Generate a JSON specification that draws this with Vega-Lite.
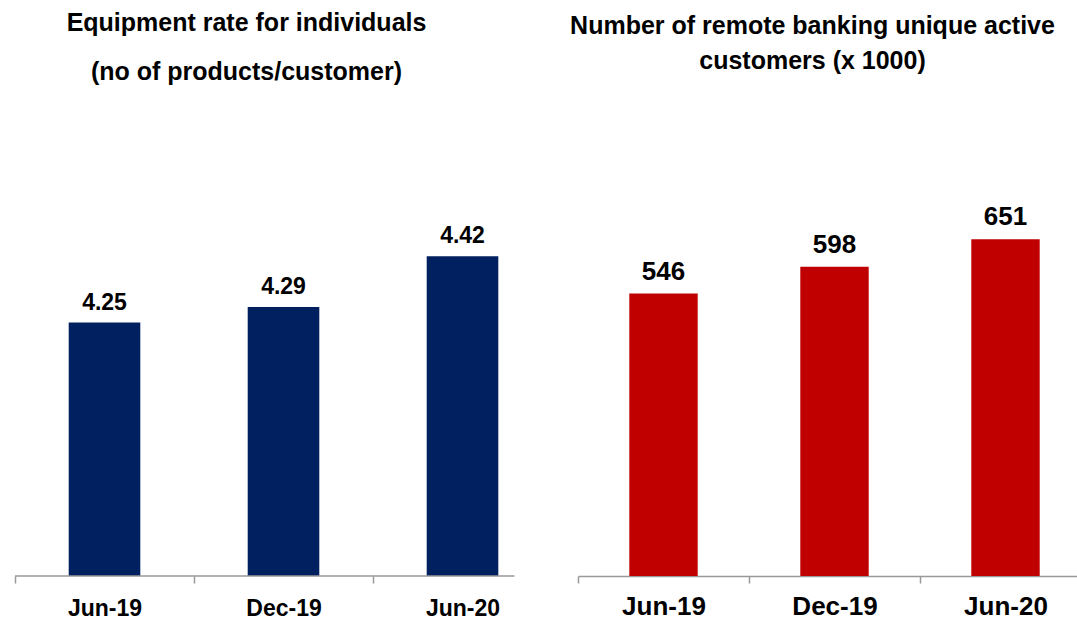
{
  "$schema": "https://vega.github.io/schema/vega-lite/v6.json",
  "background": "white",
  "padding": {"left": 14, "top": 11, "right": 0, "bottom": 0},
  "bounds": "flush",
  "spacing": 26,
  "config": {"view": {"stroke": null}, "font": "Liberation Sans"},
  "datasets": {
    "equip": [
      {"period": "Jun-19", "value": 4.25},
      {"period": "Dec-19", "value": 4.29},
      {"period": "Jun-20", "value": 4.42}
    ],
    "remote": [
      {"period": "Jun-19", "value": 546},
      {"period": "Dec-19", "value": 598},
      {"period": "Jun-20", "value": 651}
    ]
  },
  "hconcat": [
    {
      "width": 537,
      "height": 390,
      "title": {
        "text": ["Equipment rate for individuals", "(no of products/customer)"],
        "font": "Liberation Sans",
        "fontSize": 25,
        "fontWeight": "bold",
        "color": "black",
        "lineHeight": 49,
        "anchor": "middle",
        "dx": -37,
        "offset": 101
      },
      "data": {"name": "equip"},
      "layer": [
        {
          "mark": {"type": "bar", "color": "#002060", "width": {"band": 0.4}},
          "encoding": {
            "x": {
              "field": "period", "type": "nominal", "sort": null,
              "scale": {"paddingInner": 0, "paddingOuter": 0},
              "axis": {
                "title": null, "labelAngle": 0, "labelFont": "Liberation Sans",
                "labelFontWeight": "bold", "labelFontSize": 23, "labelColor": "black",
                "labelPadding": 14, "tickBand": "extent", "tickSize": 7,
                "tickColor": "#999999", "tickWidth": 1.5, "domain": false, "grid": false,
                "tickOpacity": {"condition": {"test": "datum.index == 1", "value": 0}, "value": 1}
              }
            },
            "y": {
              "field": "value", "type": "quantitative",
              "scale": {"domain": [3.6, 4.6], "nice": false, "zero": false},
              "axis": null
            },
            "y2": {"datum": 3.6}
          }
        },
        {
          "mark": {"type": "text", "baseline": "alphabetic", "dy": -13, "fontSize": 23, "fontWeight": "bold", "color": "black", "font": "Liberation Sans"},
          "encoding": {
            "x": {"field": "period", "type": "nominal", "sort": null},
            "y": {"field": "value", "type": "quantitative"},
            "text": {"field": "value", "type": "quantitative", "format": ".2f"}
          }
        },
        {
          "data": {"values": [{}]},
          "mark": {"type": "rule", "color": "#999999", "strokeWidth": 1.5},
          "encoding": {
            "x": {"datum": "Jun-19", "type": "nominal", "bandPosition": 0},
            "x2": {"datum": "Jun-20", "bandPosition": 0.79},
            "y": {"datum": 3.6, "type": "quantitative"}
          }
        }
      ]
    },
    {
      "width": 513,
      "height": 390,
      "title": {
        "text": ["Number of remote banking unique active", "customers (x 1000)"],
        "font": "Liberation Sans",
        "fontSize": 25,
        "fontWeight": "bold",
        "color": "black",
        "lineHeight": 35,
        "anchor": "middle",
        "dx": -22,
        "offset": 112
      },
      "data": {"name": "remote"},
      "layer": [
        {
          "mark": {"type": "bar", "color": "#C00000", "width": {"band": 0.4}},
          "encoding": {
            "x": {
              "field": "period", "type": "nominal", "sort": null,
              "scale": {"paddingInner": 0, "paddingOuter": 0},
              "axis": {
                "title": null, "labelAngle": 0, "labelFont": "Liberation Sans",
                "labelFontWeight": "bold", "labelFontSize": 26, "labelColor": "black",
                "labelPadding": 10, "tickBand": "extent", "tickSize": 7,
                "tickColor": "#999999", "tickWidth": 1.5, "domain": true,
                "domainColor": "#999999", "domainWidth": 1.5, "grid": false
              }
            },
            "y": {
              "field": "value", "type": "quantitative",
              "scale": {"domain": [0, 754], "nice": false},
              "axis": null
            }
          }
        },
        {
          "mark": {"type": "text", "baseline": "alphabetic", "dy": -14, "fontSize": 26, "fontWeight": "bold", "color": "black", "font": "Liberation Sans"},
          "encoding": {
            "x": {"field": "period", "type": "nominal", "sort": null},
            "y": {"field": "value", "type": "quantitative"},
            "text": {"field": "value", "type": "quantitative"}
          }
        }
      ]
    }
  ]
}
